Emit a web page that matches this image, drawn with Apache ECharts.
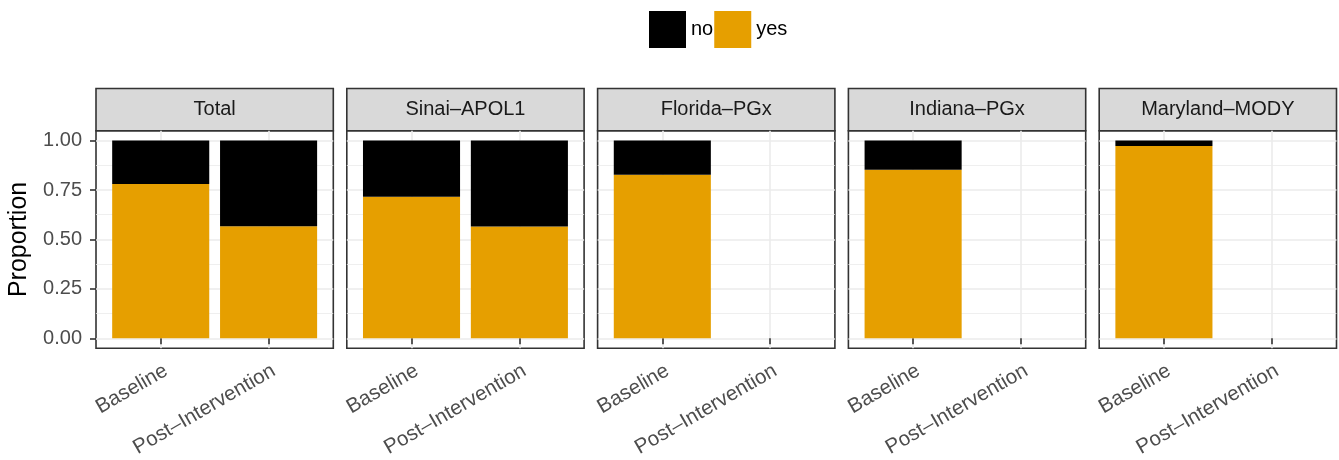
<!DOCTYPE html>
<html><head><meta charset="utf-8">
<script src="https://cdn.jsdelivr.net/npm/echarts@6/dist/echarts.min.js"></script>
<style>html,body{margin:0;padding:0;background:#fff}#c{width:1339px;height:460px}</style>
</head><body><div id="c"></div>
<script>
// ---- data ----
const panels = ['Total', 'Sinai–APOL1', 'Florida–PGx', 'Indiana–PGx', 'Maryland–MODY'];
const categories = ['Baseline', 'Post–Intervention'];
const categoryPositions = [1, 2];
const yesTotal = [0.780, 0.567];
const noTotal = [0.220, 0.433];
const yesSinai = [0.716, 0.565];
const noSinai = [0.284, 0.435];
const yesFlorida = [0.827, null];
const noFlorida = [0.173, null];
const yesIndiana = [0.852, null];
const noIndiana = [0.148, null];
const yesMaryland = [0.973, null];
const noMaryland = [0.027, null];
const yesByPanel = [yesTotal, yesSinai, yesFlorida, yesIndiana, yesMaryland];
const noByPanel = [noTotal, noSinai, noFlorida, noIndiana, noMaryland];
const yTicks = [0, 0.25, 0.5, 0.75, 1];
const yMinor = [0.125, 0.375, 0.625, 0.875];

// ---- layout / style ----
const FONT = '"Liberation Sans", Arial, Helvetica, sans-serif';
const FS = 20;
const L0 = 96, STEP = 250.8, PW = 237.3, PT = 130.7, PH = 217.6, ST = 88.5, SH = PT - ST;
const COL_YES = '#E69F00', COL_NO = '#000000';

const grids = [], xAxes = [], yAxes = [], series = [], graphics = [];
panels.forEach((p, i) => {
  const left = L0 + i * STEP;
  grids.push({left: left, top: PT, width: PW, height: PH, show: true,
    borderColor: '#333333', borderWidth: 1.6, backgroundColor: '#ffffff'});
  xAxes.push({gridIndex: i, type: 'value', min: 0.4, max: 2.6,
    axisLine: {show: false},
    axisTick: {show: true, length: 6, customValues: categoryPositions, lineStyle: {color: '#333333', width: 1.6}},
    axisLabel: {customValues: categoryPositions, formatter: v => categories[Math.round(v) - 1],
      rotate: 30, align: 'right', verticalAlign: 'top', margin: 12,
      fontSize: 20.6, color: '#4D4D4D', fontFamily: FONT},
    splitLine: {show: true, lineStyle: {color: '#EBEBEB', width: 1.6}}});
  yAxes.push({gridIndex: i, type: 'value', min: -0.05, max: 1.05, position: 'left',
    axisLine: {show: false},
    axisTick: {show: i === 0, length: 6, customValues: yTicks, lineStyle: {color: '#333333', width: 1.6}},
    axisLabel: {show: i === 0, customValues: yTicks, formatter: v => v.toFixed(2), margin: 14,
      fontSize: FS, color: '#4D4D4D', fontFamily: FONT},
    splitLine: {show: true, lineStyle: {color: '#EBEBEB', width: 1.6}},
    name: i === 0 ? 'Proportion' : '', nameLocation: 'middle', nameGap: 64,
    nameTextStyle: {fontSize: 25, color: '#000000', fontFamily: FONT}});
  yAxes.push({gridIndex: i, type: 'value', min: -0.05, max: 1.05, position: 'right',
    axisLine: {show: false},
    axisTick: {show: false, customValues: yMinor},
    axisLabel: {show: false, customValues: yMinor},
    splitLine: {show: true, lineStyle: {color: '#EBEBEB', width: 0.8}}});
  // data rows are [proportion, position]; encode maps them so stacking runs on the y dimension
  series.push({name: 'yes', type: 'bar', xAxisIndex: i, yAxisIndex: 2 * i, stack: 's' + i,
    barWidth: '90%', itemStyle: {color: COL_YES}, encode: {x: 1, y: 0},
    data: categoryPositions.map((x, j) => [yesByPanel[i][j], x])});
  series.push({name: 'no', type: 'bar', xAxisIndex: i, yAxisIndex: 2 * i, stack: 's' + i,
    barWidth: '90%', itemStyle: {color: COL_NO}, encode: {x: 1, y: 0},
    data: categoryPositions.map((x, j) => [noByPanel[i][j], x])});
  graphics.push({type: 'group', x: left, y: ST, children: [
    {type: 'rect', shape: {x: 0, y: 0, width: PW, height: SH},
      style: {fill: '#D9D9D9', stroke: '#333333', lineWidth: 1.6}},
    {type: 'text', x: PW / 2, y: SH / 2,
      style: {text: p, fontSize: FS, fill: '#1A1A1A', fontFamily: FONT, align: 'center', verticalAlign: 'middle'}}
  ]});
});

const chart = echarts.init(document.getElementById('c'), null, {renderer: 'canvas'});
chart.setOption({
  animation: false,
  backgroundColor: '#ffffff',
  legend: {data: ['no', 'yes'], left: 649, top: 11, padding: 0, itemWidth: 37, itemHeight: 37, itemGap: 1,
    icon: 'rect', selectedMode: false,
    textStyle: {fontSize: FS, color: '#000000', fontFamily: FONT}},
  grid: grids, xAxis: xAxes, yAxis: yAxes, series: series, graphic: graphics
});
</script></body></html>
